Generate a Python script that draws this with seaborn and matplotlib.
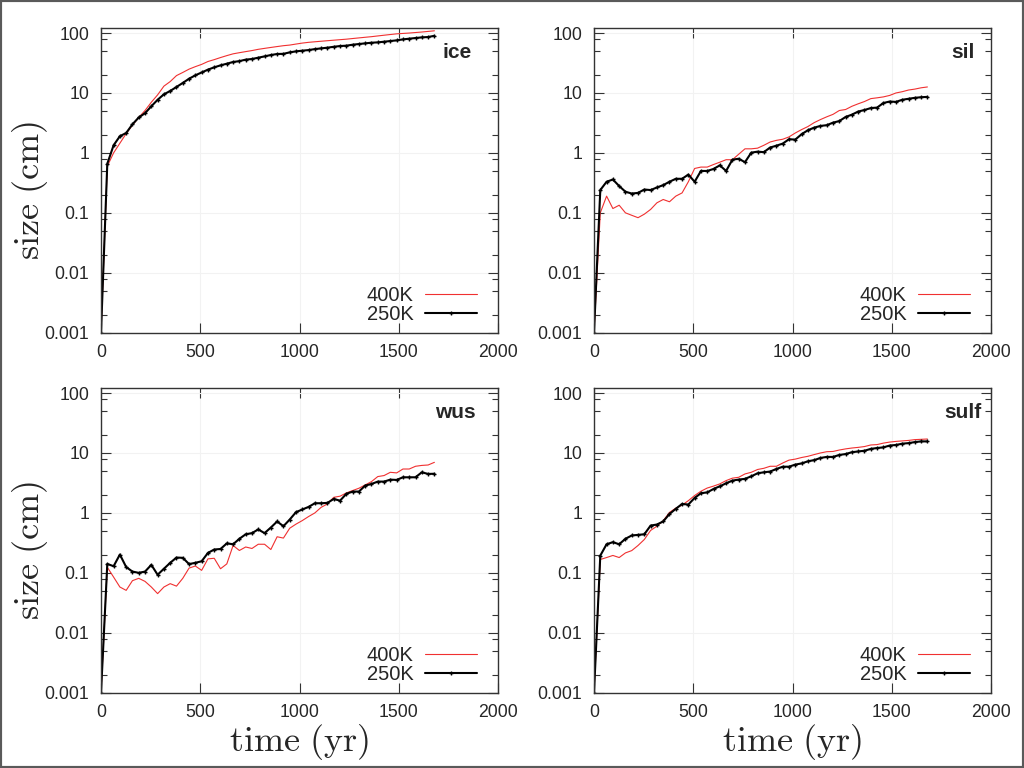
import numpy as np
import pandas as pd
import matplotlib.pyplot as plt
import matplotlib.ticker as mticker
from matplotlib.patches import Rectangle
import seaborn as sns

# =====================================
# Data
# =====================================
time_yr = [0, 31.7, 63.4, 95.1, 126.8, 158.4, 190.1, 221.8, 253.5, 285.2,
           316.9, 348.6, 380.3, 412.0, 443.7, 475.3, 507.0, 538.7, 570.4, 602.1,
           633.8, 665.5, 697.2, 728.9, 760.6, 792.2, 823.9, 855.6, 887.3, 919.0,
           950.7, 982.4, 1014.1, 1045.8, 1077.5, 1109.1, 1140.8, 1172.5, 1204.2, 1235.9,
           1267.6, 1299.3, 1331.0, 1362.7, 1394.4, 1426.0, 1457.7, 1489.4, 1521.1, 1552.8,
           1584.5, 1616.2, 1647.9, 1679.6]

ice_400K = [0.001, 0.6, 1.0, 1.45, 2.1, 2.9, 3.9, 5.1, 7.0, 9.3, 13.0,
            15.5, 19.5, 22, 25, 27.5, 30, 33.5, 36, 39, 42,
            45, 47, 49, 51, 53.5, 55.5, 57.5, 59.5, 61.5, 63,
            65.5, 68, 70, 71.5, 73, 74.5, 76, 77.5, 79, 81,
            83, 85, 87, 89.5, 92, 94.5, 97, 98.5, 100, 102,
            104, 106.5, 109]
ice_250K = [0.001, 0.66, 1.34, 1.9, 2.15, 3.0, 3.9, 4.6, 6.0, 7.7, 9.5,
            10.8, 12.6, 14.7, 17.3, 19.7, 22, 24.5, 26.8, 28.9, 30.8,
            32.9, 34, 36, 36.9, 38.8, 40.8, 43, 44.7, 45, 47.6,
            49.5, 50.8, 52, 54, 55.5, 57, 59, 60.7, 61.5, 63.9,
            65.6, 67.3, 69, 69.9, 71.7, 73.6, 75.5, 78.4, 80.5, 82.6,
            84.7, 85.8, 90]

sil_400K = [0.001, 0.1, 0.19, 0.118, 0.134, 0.1, 0.091, 0.083, 0.095, 0.114, 0.147,
            0.167, 0.153, 0.19, 0.215, 0.33, 0.55, 0.58, 0.58, 0.64, 0.7,
            0.77, 0.77, 0.95, 1.17, 1.17, 1.2, 1.34, 1.52, 1.62, 1.69,
            1.85, 2.15, 2.45, 2.75, 3.2, 3.6, 4.0, 4.4, 5.1, 5.3,
            6.0, 6.6, 7.2, 8.05, 8.3, 8.6, 9.1, 10.0, 10.5, 11.2,
            11.6, 12.2, 12.6]
sil_250K = [0.001, 0.24, 0.33, 0.36, 0.28, 0.225, 0.21, 0.215, 0.245, 0.24, 0.265,
            0.29, 0.33, 0.37, 0.37, 0.435, 0.33, 0.5, 0.5, 0.54, 0.62,
            0.5, 0.77, 0.8, 0.7, 1.01, 1.05, 1.03, 1.23, 1.32, 1.43,
            1.69, 1.67, 2.05, 2.39, 2.64, 2.82, 2.9, 3.2, 3.4, 3.98,
            4.35, 4.9, 5.2, 5.6, 5.7, 6.8, 7.2, 7.1, 7.7, 8.0,
            8.3, 8.5, 8.6]

wus_400K = [0.001, 0.124, 0.085, 0.058, 0.051, 0.074, 0.081, 0.072, 0.058, 0.045, 0.058,
            0.066, 0.06, 0.081, 0.12, 0.13, 0.11, 0.171, 0.175, 0.117, 0.141,
            0.286, 0.236, 0.27, 0.255, 0.30, 0.30, 0.245, 0.40, 0.38, 0.555,
            0.65, 0.745, 0.87, 1.0, 1.24, 1.41, 1.82, 1.9, 2.15, 2.36,
            2.58, 2.93, 3.33, 4.04, 4.2, 4.76, 4.65, 5.4, 5.4, 6.0,
            6.2, 6.3, 6.98]
wus_250K = [0.001, 0.141, 0.129, 0.202, 0.125, 0.105, 0.1, 0.105, 0.136, 0.093, 0.117,
            0.147, 0.18, 0.178, 0.14, 0.147, 0.156, 0.215, 0.245, 0.25, 0.31,
            0.3, 0.37, 0.44, 0.46, 0.53, 0.46, 0.57, 0.72, 0.6, 0.775,
            1.03, 1.14, 1.26, 1.45, 1.45, 1.47, 1.71, 1.6, 2.08, 2.27,
            2.27, 2.86, 3.04, 3.33, 3.33, 3.59, 3.55, 3.93, 3.93, 3.93,
            4.76, 4.47, 4.5]

sulf_400K = [0.001, 0.167, 0.18, 0.195, 0.18, 0.215, 0.235, 0.286, 0.36, 0.51, 0.6,
             0.74, 1.02, 1.2, 1.35, 1.6, 1.95, 2.3, 2.6, 2.8, 3.05,
             3.46, 3.8, 3.93, 4.47, 4.76, 5.3, 5.55, 6.0, 6.0, 6.8,
             7.6, 7.9, 8.4, 8.8, 9.4, 10.0, 10.5, 10.6, 11.2, 11.7,
             12.1, 12.4, 12.8, 13.6, 13.8, 14.6, 15.2, 15.6, 15.9, 16.2,
             16.7, 16.9, 17.1]
sulf_250K = [0.001, 0.194, 0.30, 0.325, 0.30, 0.37, 0.42, 0.43, 0.44, 0.615, 0.64,
             0.72, 0.96, 1.17, 1.41, 1.38, 1.78, 2.13, 2.2, 2.51, 2.78,
             3.12, 3.46, 3.6, 3.7, 4.08, 4.58, 4.76, 4.9, 5.41, 5.9,
             5.9, 6.4, 6.7, 7.26, 7.6, 8.26, 8.6, 8.6, 9.27, 9.6,
             10.3, 10.6, 10.9, 11.7, 12.1, 12.4, 13.3, 13.6, 14.3, 14.6,
             15.2, 15.6, 15.6]

series_labels = ['400K', '250K']
x_ticks = [0, 500, 1000, 1500, 2000]
y_ticks = [0.001, 0.01, 0.1, 1, 10, 100]
y_tick_labels = ['0.001', '0.01', '0.1', '1', '10', '100']

# =====================================
# Style
# =====================================
sns.set_style('ticks')
plt.rcParams['font.family'] = ['Liberation Sans', 'DejaVu Sans']
plt.rcParams['mathtext.fontset'] = 'cm'

TICK_FS = 12.7
LEG_FS = 14.5
W, H = 1024, 768

# name, 400K, 250K, axes box in pixels (left, top), label x (axes fraction)
panels = [
    ('ice', ice_400K, ice_250K, (101, 28.3), 0.861),
    ('sil', sil_400K, sil_250K, (594, 28.3), 0.901),
    ('wus', wus_400K, wus_250K, (101, 388.3), 0.841),
    ('sulf', sulf_400K, sulf_250K, (594, 388.3), 0.882),
]
AX_W, AX_H = 397, 304.4

fig = plt.figure(figsize=(W / 100, H / 100), dpi=100)

for name, hot, cold, (px, py), lx in panels:
    ax = fig.add_axes([px / W, 1 - (py + AX_H) / H, AX_W / W, AX_H / H])
    ax.grid(True, which='major', color='#f2f2f2', lw=0.8, zorder=0)

    sns.lineplot(x=time_yr, y=hot, ax=ax, color='#f03030', lw=0.8,
                 label=series_labels[0], sort=False)
    sns.lineplot(x=time_yr, y=cold, ax=ax, color='black', lw=1.5,
                 marker='+', ms=3.5, mew=1.0, mec='black', mfc='black',
                 label=series_labels[1], sort=False)

    ax.set_yscale('log')
    ax.set_xlim(0, 2000)
    ax.set_ylim(0.001, 120)
    ax.set_xticks(x_ticks)
    ax.set_yticks(y_ticks)
    ax.set_yticklabels(y_tick_labels)
    ax.yaxis.set_minor_locator(mticker.LogLocator(base=10, subs=[2, 5, 8]))
    ax.yaxis.set_minor_formatter(mticker.NullFormatter())
    ax.tick_params(which='major', direction='in', top=True, right=True,
                   length=7, width=0.8, labelsize=TICK_FS, color='#333333')
    ax.tick_params(axis='y', which='major', pad=8.6)
    ax.tick_params(axis='x', which='major', pad=8)
    ax.tick_params(which='minor', direction='in', left=True, right=True,
                   length=4, width=0.8, color='#333333')
    for sp in ax.spines.values():
        sp.set_color('#333333')
        sp.set_linewidth(1.0)
    ax.set_xlabel('')
    ax.set_ylabel('')

    ax.legend(loc='lower right', bbox_to_anchor=(0.947, 0.03), frameon=False,
              markerfirst=False, handlelength=2.6, handletextpad=0.55,
              labelspacing=0.0, borderpad=0, borderaxespad=0, fontsize=LEG_FS)

    ax.text(lx, 0.92, name, transform=ax.transAxes, ha='left', va='center',
            fontsize=15, fontweight='bold')

# axis titles
for cy in (190, 550):
    fig.text(30 / W, 1 - cy / H, r'$\mathrm{size\ (cm)}$', rotation=90,
             ha='center', va='center', fontsize=26)
for cx in (299.5, 792.5):
    fig.text(cx / W, 1 - 742 / H, r'$\mathrm{time\ (yr)}$',
             ha='center', va='center', fontsize=26)

# thin grey frame round the page
fig.add_artist(Rectangle((0, 0), 1, 1, transform=fig.transFigure, fill=False,
                         edgecolor='#5a5a5a', lw=3))

fig.savefig('out.png', dpi=100)
